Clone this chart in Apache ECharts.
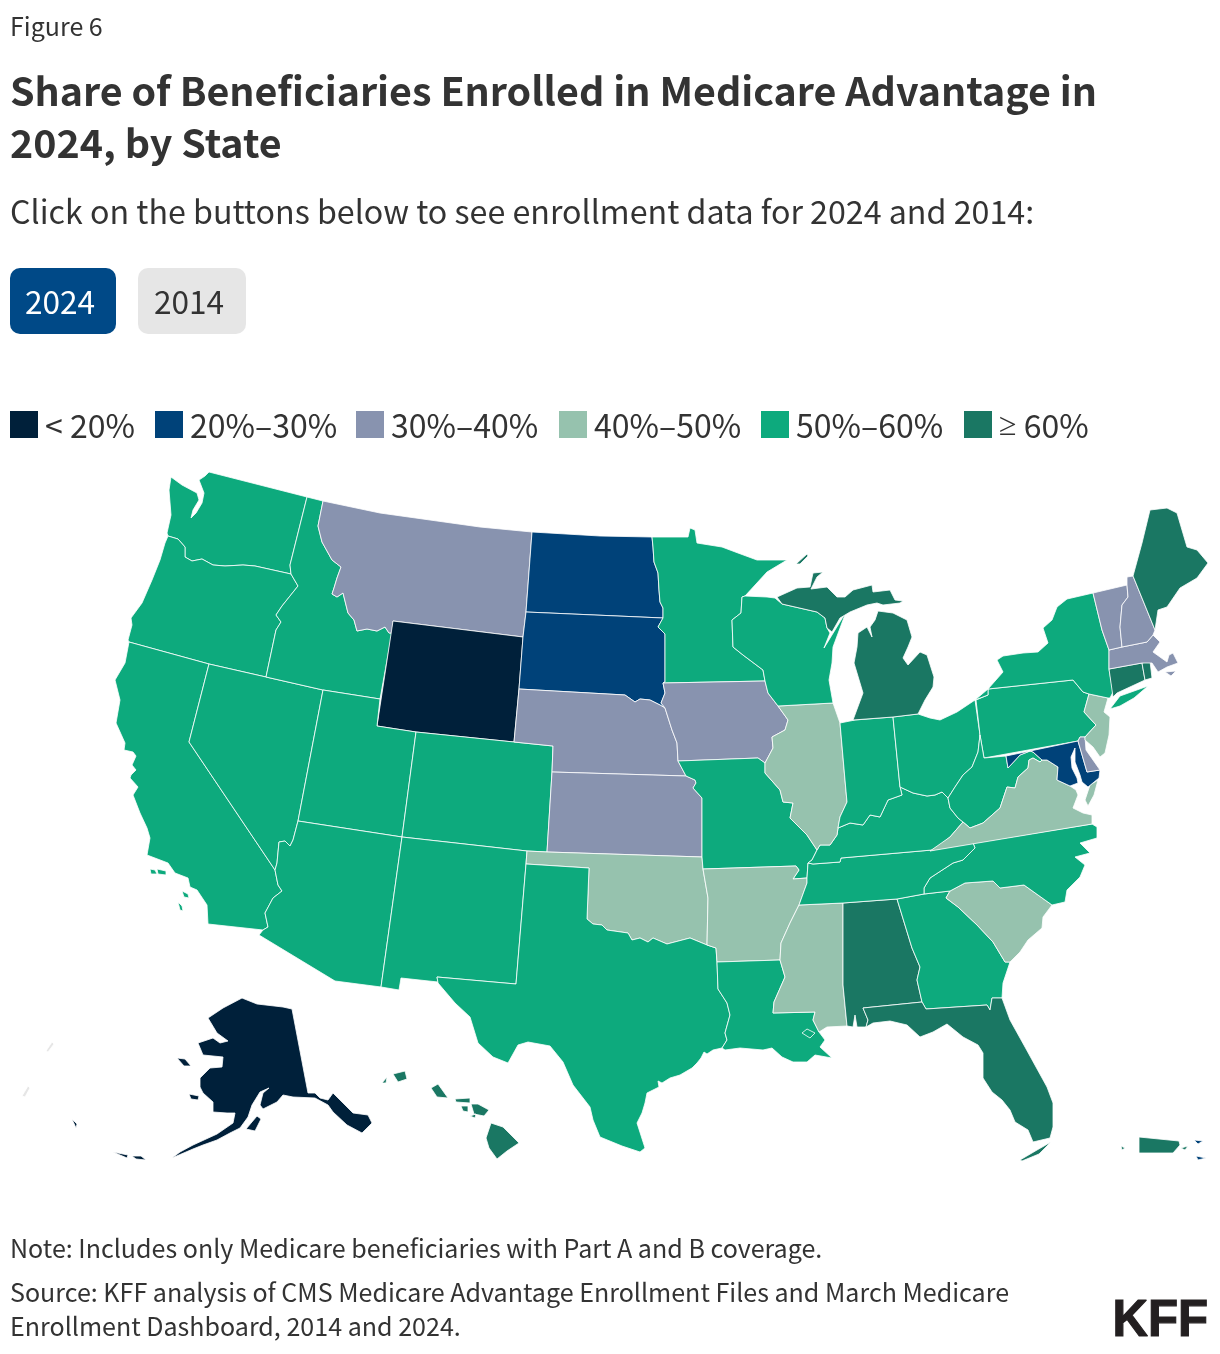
<!DOCTYPE html>
<html><head><meta charset="utf-8">
<style>html,body{margin:0;padding:0;background:#fff}#c{width:1220px;height:1354px}</style>
<script src="https://cdn.jsdelivr.net/npm/echarts@6/dist/echarts.min.js"></script>
</head><body><div id="c"></div>
<script>
const bucketLabels = ['< 20%','20%–30%','30%–40%','40%–50%','50%–60%','≥ 60%'];
const bucketEdges = [20,30,40,50,60];
const bucketColors = ['#00203a','#004279','#8893af','#96c2ae','#0daa7d','#1a7763'];
const yearButtons = ['2024','2014'];
const stateNames = ['Alabama','Alaska','Arizona','Arkansas','California','Colorado','Connecticut','Delaware','Florida','Georgia','Hawaii','Idaho','Illinois','Indiana','Iowa','Kansas','Kentucky','Louisiana','Maine','Maryland','Massachusetts','Michigan','Minnesota','Mississippi','Missouri','Montana','Nebraska','Nevada','New Hampshire','New Jersey','New Mexico','New York','North Carolina','North Dakota','Ohio','Oklahoma','Oregon','Pennsylvania','Puerto Rico','Rhode Island','South Carolina','South Dakota','Tennessee','Texas','Utah','Vermont','Virginia','Virgin Islands','Washington','West Virginia','Wisconsin','Wyoming'];
const stateShares = [62,1,55,47,55,51,63,35,62,59,63,53,45,51,38,33,55,58,61,23,35,63,58,44,53,35,33,52,31,45,52,55,55,27,54,42,52,56,72,62,49,29,58,55,52,32,42,25,52,52,56,8];

// Outline table for the registered map (map units, not data). "|" separates a hole from its ring.
const outlines = {
Washington:['171,477 182,485 197,493 199,500 193,510 191,518 196,513 202,503 204,493 199,480 205,476 209,472 307,497 290,565 291,574 255,566 243,565 225,566 213,565 202,559 192,561 185,557 185,547 178,539 168,536 167,533 171,515 169,490'],
Oregon:['168,536 178,539 185,547 185,557 192,561 202,559 213,565 225,566 243,565 255,566 291,574 298,586 282,606 276,615 281,622 276,630 266,677 209,664 129,642 128,640 132,625 131,618 142,603 152,580 160,560 165,543'],
California:['129,642 209,664 189,742 275,870 278,885 282,891 273,898 265,913 268,927 263,930 208,924 207,905 197,890 190,887 188,878 175,873 168,863 147,855 150,838 147,828 140,813 133,795 138,787 130,778 131,775 136,770 132,765 136,756 133,752 124,750 125,743 116,723 120,700 115,680 125,663','150,869 155,870 157,874 151,874','157,869 166,871 166,875 158,874','182,891 188,894 189,898 184,897','178,902 182,906 183,911 180,910'],
Nevada:['209,664 266,677 323,690 298,821 293,840 290,846 285,841 279,842 277,863 275,870 189,742'],
Idaho:['307,497 323,501 318,526 322,542 332,560 341,567 337,578 334,588 332,594 337,597 343,593 348,613 354,620 357,631 367,629 377,631 385,627 389,633 392,633 380,699 323,690 266,677 276,630 281,622 276,615 282,606 298,586 291,574 290,565'],
Montana:['323,501 380,513 430,520 480,527 532,532 526,612 523,637 393,621 392,633 389,633 385,627 377,631 367,629 357,631 354,620 348,613 343,593 337,597 332,594 334,588 337,578 341,567 332,560 322,542 318,526'],
Wyoming:['393,621 523,637 519,689 514,742 416,732 377,726'],
Utah:['323,690 380,699 377,726 416,732 402,837 298,821'],
Arizona:['298,821 402,837 381,987 335,981 259,935 263,930 268,927 265,913 273,898 282,891 278,885 275,870 277,863 279,842 285,841 290,846 293,840'],
Colorado:['416,732 514,742 553,746 552,772 547,852 527,851 402,837'],
'New Mexico':['402,837 527,851 526,864 516,984 437,977 438,982 401,978 399,990 381,987'],
'North Dakota':['532,532 600,536 652,537 653,547 654,562 658,573 659,590 660,602 663,608 663,618 526,612'],
'South Dakota':['526,612 663,618 658,627 665,634 665,682 663,683 665,693 661,703 665,708 660,705 650,700 640,699 635,702 625,695 519,689 523,637'],
Nebraska:['519,689 625,695 635,702 640,699 650,700 660,705 665,708 672,730 677,743 678,761 686,776 552,772 553,746 514,742'],
Kansas:['552,772 686,776 695,780 696,783 693,788 702,798 702,857 547,852'],
Oklahoma:['527,851 547,852 702,857 703,869 708,898 707,945 690,938 667,944 653,938 648,942 640,938 632,940 628,933 607,930 602,925 593,924 587,919 589,868 526,864'],
Texas:['526,864 589,868 587,919 593,924 602,925 607,930 628,933 632,940 640,938 648,942 653,938 667,944 690,938 707,945 716,948 717,962 718,989 727,1003 730,1015 725,1033 727,1040 722,1048 713,1050 707,1054 704,1052 701,1058 697,1063 692,1068 680,1075 670,1078 662,1083 658,1081 659,1087 647,1093 645,1103 642,1113 637,1123 645,1148 640,1152 622,1146 600,1137 593,1120 590,1107 573,1085 563,1062 550,1046 528,1042 518,1045 508,1063 493,1057 478,1043 474,1030 470,1017 455,1003 438,983 437,977 516,984'],
Minnesota:['652,537 688,537 690,528 695,530 697,543 722,547 738,553 757,560 787,560 767,572 745,596 742,597 741,613 732,620 733,647 743,655 763,670 765,681 663,683 665,682 665,634 658,627 663,618 663,608 660,602 659,590 658,573 654,562 653,547'],
Iowa:['663,683 765,681 768,693 778,706 788,720 785,730 772,737 773,748 765,763 758,758 678,761 677,743 672,730 665,708 661,703 665,693'],
Missouri:['678,761 758,758 765,763 765,773 780,790 783,802 793,803 790,818 807,835 817,850 812,860 808,863 807,878 793,879 799,870 796,866 703,869 702,857 702,798 693,788 696,783 695,780 686,776'],
Arkansas:['703,869 796,866 799,870 793,879 807,878 807,883 799,905 790,923 781,943 780,960 717,962 716,948 707,945 708,898'],
Louisiana:['717,962 780,960 785,977 774,1002 773,1013 815,1012 813,1020 819,1032 825,1040 820,1047 832,1058 815,1055 807,1062 793,1062 782,1057 772,1048 763,1050 740,1048 725,1050 722,1048 727,1040 725,1033 730,1015 727,1003 718,989|802,1033 807,1029 815,1033 810,1038'],
Mississippi:['799,905 843,903 843,985 847,1026 827,1027 819,1032 813,1020 815,1012 773,1013 774,1002 785,977 780,960 781,943 790,923'],
Alabama:['843,903 897,899 912,948 920,967 917,980 922,1002 863,1008 868,1020 866,1027 857,1027 855,1015 853,1027 847,1026 843,985'],
Georgia:['897,899 924,894 950,891 946,898 958,907 977,925 993,942 1005,962 1010,962 1003,983 1002,998 992,998 990,1010 987,1005 926,1009 922,1002 917,980 920,967 912,948'],
Florida:['863,1008 922,1002 926,1009 987,1005 990,1010 992,998 1002,998 1010,1020 1025,1047 1047,1087 1053,1103 1053,1127 1050,1138 1033,1142 1028,1130 1015,1122 1010,1110 1002,1100 992,1092 983,1078 983,1053 978,1045 963,1037 947,1024 933,1032 920,1037 907,1025 890,1021 873,1023 866,1027 868,1020','1020,1160 1037,1150 1051,1142 1039,1154 1022,1161'],
'South Carolina':['950,891 965,883 993,881 1000,888 1024,885 1052,905 1043,917 1042,928 1028,940 1020,952 1010,962 1005,962 993,942 977,925 958,907 946,898'],
'North Carolina':['1092,824 973,843 975,848 963,860 953,863 930,878 924,888 924,894 950,891 965,883 993,881 1000,888 1024,885 1052,905 1065,902 1067,890 1080,877 1085,865 1075,857 1090,853 1080,843 1097,838 1097,827'],
Tennessee:['932,850 973,843 975,848 963,860 953,863 930,878 924,888 924,894 897,899 843,903 799,905 807,883 807,878 808,863 813,864 840,862 841,858'],
Kentucky:['838,828 850,823 863,825 870,815 880,817 888,800 902,795 900,787 913,793 927,796 935,795 942,792 948,798 950,808 958,818 963,822 950,837 940,845 932,850 841,858 840,862 813,864 808,863 812,860 817,850 820,845 830,845 837,835'],
Illinois:['778,706 833,703 840,723 845,780 847,802 840,817 838,828 837,835 830,845 820,845 817,850 807,835 790,818 793,803 783,802 780,790 765,773 765,763 773,748 772,737 785,730 788,720'],
Indiana:['840,723 855,720 893,717 900,787 902,795 888,800 880,817 870,815 863,825 850,823 838,828 840,817 847,802 845,780'],
Ohio:['893,717 918,714 930,718 940,720 957,712 975,700 980,735 978,752 972,767 963,775 955,787 948,798 942,792 935,795 927,796 913,793 900,787'],
Wisconsin:['745,596 767,597 775,598 782,604 817,612 825,618 827,628 830,633 824,648 846,612 833,647 832,663 829,680 833,703 778,706 768,693 765,681 763,670 743,655 733,647 732,620 741,613 742,597'],
Michigan:['777,597 797,588 810,587 813,573 823,572 817,577 811,589 827,587 837,597 845,597 853,590 872,585 873,592 890,590 895,600 903,601 900,603 883,605 877,603 867,605 850,612 840,618 832,632 827,628 825,618 817,612 782,604','796,564 807,554 808,556 800,564','853,720 863,693 854,663 857,647 858,633 867,627 872,637 870,627 875,620 878,611 893,613 907,620 912,637 908,647 903,658 908,665 920,652 927,655 934,677 933,687 925,700 918,714 893,717'],
Pennsylvania:['976,700 988,695 988,689 1073,680 1083,692 1089,694 1084,712 1096,725 1085,737 1080,737 1078,741 984,758 980,735'],
'West Virginia':['980,735 984,758 1006,756 1008,768 1020,755 1030,751 1033,752 1042,760 1040,762 1033,758 1029,760 1028,768 1018,777 1015,788 1007,787 1000,808 983,823 970,828 963,822 958,818 950,808 948,798 955,787 963,775 972,767 978,752'],
Virginia:['930,851 950,837 963,822 970,828 983,823 1000,808 1007,787 1015,788 1018,777 1028,768 1029,760 1033,758 1040,762 1042,760 1047,760 1058,767 1057,780 1070,786 1076,790 1078,795 1073,808 1083,813 1092,815 1092,824','1098,780 1094,795 1088,806 1085,800 1090,785'],
Maryland:['1006,756 1078,741 1087,772 1100,770 1099,778 1088,787 1082,782 1080,775 1075,762 1075,748 1071,757 1072,768 1077,778 1078,783 1070,786 1057,780 1058,767 1047,760 1042,760 1033,752 1030,751 1020,755 1008,768'],
Delaware:['1078,741 1080,737 1085,737 1086,750 1100,770 1087,772'],
'New Jersey':['1089,694 1108,698 1104,712 1110,717 1109,735 1105,753 1100,757 1093,747 1085,740 1085,737 1096,725 1084,712'],
'New York':['975,700 988,689 1003,672 997,660 1003,656 1023,653 1038,652 1048,643 1043,628 1052,620 1057,607 1067,599 1093,593 1102,630 1109,650 1109,669 1113,692 1110,698 1108,698 1089,694 1083,692 1073,680 988,689 988,695','1110,709 1120,696 1148,686 1134,698 1120,706'],
Connecticut:['1109,669 1142,663 1145,680 1117,693 1113,697'],
'Rhode Island':['1142,663 1150,661 1152,678 1145,680'],
Massachusetts:['1109,650 1122,647 1147,642 1153,635 1160,642 1153,652 1167,662 1169,655 1173,653 1178,663 1167,667 1158,672 1152,663 1142,663 1109,669','1165,672 1176,671 1171,676'],
Vermont:['1093,593 1127,585 1128,597 1122,605 1120,627 1122,647 1109,650 1102,630'],
'New Hampshire':['1127,577 1133,576 1155,630 1153,635 1147,642 1122,647 1120,627 1122,605 1128,597 1127,585'],
Maine:['1133,576 1142,543 1150,510 1167,508 1177,513 1187,547 1197,550 1208,563 1197,578 1180,588 1167,607 1158,610 1155,630'],
Alaska:['242,998 257,1004 283,1007 292,1009 308,1093 315,1093 320,1098 328,1100 333,1093 343,1103 353,1113 368,1115 372,1123 362,1133 347,1125 333,1112 328,1105 315,1098 293,1097 283,1095 277,1102 263,1109 260,1105 263,1093 269,1088 260,1092 252,1105 248,1117 240,1128 230,1133 217,1140 203,1145 193,1149 172,1158 180,1152 193,1145 217,1134 233,1123 235,1113 227,1113 213,1112 213,1102 203,1093 200,1087 200,1078 210,1068 222,1067 223,1057 203,1055 198,1043 213,1038 220,1043 228,1041 217,1033 208,1018 223,1008','177,1058 185,1059 191,1066 184,1066','189,1094 199,1096 198,1100 191,1099','246,1129 257,1116 261,1119 255,1131','113,1152 128,1155 127,1158','132,1156 141,1156 146,1160 136,1159','72,1119 77,1124 76,1128'],
Hawaii:['393,1074 405,1071 407,1079 398,1082','382,1083 387,1077 386,1083','431,1088 438,1084 448,1098 437,1097','455,1099 470,1098 470,1103 456,1102','461,1106 468,1106 468,1112 463,1111','471,1104 478,1104 489,1110 484,1116 474,1114','470,1116 476,1114 475,1118','491,1123 503,1127 519,1143 507,1151 497,1159 489,1148 486,1138'],
'Puerto Rico':['1139,1137 1179,1141 1180,1145 1173,1153 1139,1153','1181,1148 1188,1146 1185,1150','1121,1146 1125,1148 1122,1150'],
'Virgin Islands':['1196,1156 1206,1158 1198,1160','1194,1140 1203,1141 1198,1144'],
'Chukotka fragment':['22,1096 28,1086 30,1088 25,1097'],
'Siberia fragment':['46,1051 52,1042 54,1044 48,1052']
};

const textRows = [
 ['Figure 6',10,26,'400 25px'],
 ['Share of Beneficiaries Enrolled in Medicare Advantage in',10,91,'700 39.4px'],
 ['2024, by State',10,143.5,'700 39.4px'],
 ['Click on the buttons below to see enrollment data for 2024 and 2014:',10,212,'400 32.2px'],
 ['Note: Includes only Medicare beneficiaries with Part A and B coverage.',10,1248,'400 25.06px'],
 ['Source: KFF analysis of CMS Medicare Advantage Enrollment Files and March Medicare',10,1292,'400 25.06px'],
 ['Enrollment Dashboard, 2014 and 2024.',10,1326,'400 25.06px']
];
const legendLeft = [10,155,356,559,761,964];
const FONT = '"Noto Sans CJK SC","Noto Sans",sans-serif';
const toRing = s => s.trim().split(/\s+/).map(p => p.split(',').map(Number));
const features = Object.keys(outlines).map(name => ({
  type:'Feature', properties:{name},
  geometry:{type:'MultiPolygon', coordinates: outlines[name].map(poly => poly.split('|').map(toRing).map(r => r.concat([r[0]])))}
}));
echarts.registerMap('usa',{type:'FeatureCollection',features});

const pieces = bucketLabels.map((label,i)=>{
  const p = {label,color:bucketColors[i]};
  if(i>0) p.min = bucketEdges[i-1];
  if(i<bucketEdges.length) p.max = bucketEdges[i];
  return p;
});
const graphic = textRows.map(([text,x,y,f])=>({type:'text',silent:true,style:{x,y,text,font:f+' '+FONT,fill:'#333333',textVerticalAlign:'middle'}}));
graphic.push(
 {type:'rect',silent:true,shape:{x:10,y:268,width:106,height:66,r:10},style:{fill:'#004987'}},
 {type:'rect',silent:true,shape:{x:138,y:268,width:108,height:66,r:10},style:{fill:'#e6e6e6'}},
 {type:'text',silent:true,style:{x:60,y:302,text:yearButtons[0],font:'400 31.6px '+FONT,fill:'#ffffff',textAlign:'center',textVerticalAlign:'middle'}},
 {type:'text',silent:true,style:{x:189,y:302,text:yearButtons[1],font:'400 31.6px '+FONT,fill:'#333333',textAlign:'center',textVerticalAlign:'middle'}},
 {type:'text',silent:true,x:1112.5,y:1322,scaleX:0.965,style:{x:0,y:0,text:'KFF',font:'700 51px "Liberation Sans",sans-serif',fill:'#231f20',stroke:'#231f20',lineWidth:1.2,textVerticalAlign:'middle'}}
);
bucketLabels.forEach((label,i)=>{
  graphic.push({type:'rect',silent:true,shape:{x:legendLeft[i],y:411,width:28,height:27},style:{fill:bucketColors[i]}});
  graphic.push({type:'text',silent:true,style:{x:legendLeft[i]+35,y:426,text:label.replace('≥','{g|≥}'),
    font:'400 32px '+FONT,fill:'#333333',textVerticalAlign:'middle',
    rich:{g:{fontFamily:'Noto Sans',fontSize:32,fill:'#333333',color:'#333333'}}}});
});
const chart = echarts.init(document.getElementById('c'),null,{renderer:'canvas'});
chart.setOption({
  animation:false,
  backgroundColor:'#ffffff',
  textStyle:{fontFamily:FONT},
  graphic,
  visualMap:{type:'piecewise',show:false,pieces,seriesIndex:0},
  series:[{type:'map',map:'usa',silent:true,
    projection:{project:p=>p,unproject:p=>p},
    boundingCoords:[[0,0],[1220,1354]],left:0,top:0,width:1220,height:1354,aspectScale:1,
    roam:false,label:{show:false},emphasis:{disabled:true},select:{disabled:true},
    itemStyle:{areaColor:'#e6e6e6',borderColor:'#ffffff',borderWidth:0.8},
    data:stateNames.map((name,i)=>({name,value:stateShares[i]}))}]
});
</script></body></html>
